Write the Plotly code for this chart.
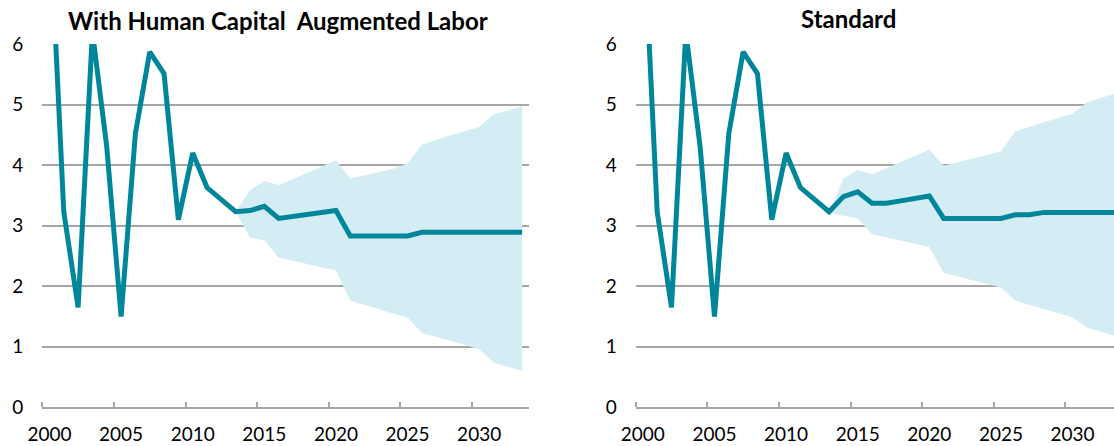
import plotly.graph_objects as go

# ---------------- data ----------------
years = [2000, 2001, 2002, 2003, 2004, 2005, 2006, 2007, 2008, 2009, 2010,
         2011, 2012, 2013, 2014, 2015, 2016, 2017, 2018, 2019, 2020, 2021,
         2022, 2023, 2024, 2025, 2026, 2027, 2028, 2029, 2030, 2031, 2032, 2033]

# historical growth (same in both panels), 2000-2013
hist = [8.2, 3.23, 1.65, 6.2, 4.30, 1.50, 4.52, 5.87, 5.51, 3.10, 4.20,
        3.63, 3.43, 3.23]

# projections 2014-2033
proj_hc = [3.25, 3.32, 3.12, 3.15, 3.18, 3.22, 3.25, 2.83, 2.83, 2.83, 2.83,
           2.83, 2.89, 2.89, 2.89, 2.89, 2.89, 2.89, 2.89, 2.89]
proj_std = [3.48, 3.56, 3.37, 3.37, 3.41, 3.45, 3.49, 3.12, 3.12, 3.12, 3.12,
            3.12, 3.18, 3.18, 3.22, 3.22, 3.22, 3.22, 3.22, 3.22]

# confidence band 2013-2033
band_years = years[13:]
hc_upper = [3.23, 3.59, 3.74, 3.67, 3.77, 3.87, 3.97, 4.08, 3.78, 3.83, 3.88,
            3.94, 4.03, 4.34, 4.42, 4.49, 4.56, 4.63, 4.84, 4.91, 4.97]
hc_lower = [3.23, 2.80, 2.76, 2.47, 2.42, 2.37, 2.31, 2.26, 1.76, 1.69, 1.62,
            1.55, 1.48, 1.23, 1.17, 1.10, 1.03, 0.96, 0.74, 0.67, 0.60]
std_upper = [3.21, 3.78, 3.92, 3.85, 3.95, 4.05, 4.16, 4.26, 3.99, 4.05, 4.11,
             4.17, 4.23, 4.56, 4.64, 4.71, 4.78, 4.85, 5.04, 5.11, 5.18]
std_lower = [3.21, 3.17, 3.12, 2.86, 2.81, 2.75, 2.70, 2.65, 2.22, 2.16, 2.10,
             2.04, 1.98, 1.76, 1.69, 1.62, 1.56, 1.49, 1.32, 1.25, 1.18]

tick_years = [2000, 2005, 2010, 2015, 2020, 2025, 2030]
tick_text = ["2000", "2005", "2010", "2015", "2020", "2025", "2030"]
y_ticks = [0, 1, 2, 3, 4, 5, 6]

titles = ["With Human Capital\u00a0 Augmented Labor", "Standard"]

# ---------------- style ----------------
W, H = 1114, 446
LINE = "#00869A"
BAND = "#D4EDF4"
GRID = "#A6A6A6"
FONT = "Lato"

fig = go.Figure()

panels = [
    (hist + proj_hc, hc_upper, hc_lower, "x", "y"),
    (hist + proj_std, std_upper, std_lower, "x2", "y2"),
]
for vals, up, lo, xa, ya in panels:
    fig.add_trace(go.Scatter(x=band_years, y=up, mode="lines",
                             line=dict(width=0, color=BAND),
                             xaxis=xa, yaxis=ya, showlegend=False,
                             hoverinfo="skip"))
    fig.add_trace(go.Scatter(x=band_years, y=lo, mode="lines",
                             line=dict(width=0, color=BAND), fill="tonexty",
                             fillcolor=BAND, xaxis=xa, yaxis=ya,
                             showlegend=False, hoverinfo="skip"))
    fig.add_trace(go.Scatter(x=years, y=vals, mode="lines",
                             line=dict(width=5, color=LINE),
                             xaxis=xa, yaxis=ya, showlegend=False))

# pixel geometry
left_x0, left_x1 = 42.3, 529.3
right_x0 = 635.7
px_per_year = (left_x1 - left_x0) / 34.0
y_top, y_bot = 44.0, 407.4
ydom = [(H - y_bot) / H, (H - y_top) / H]

minor_ticks = [t - 0.5 for t in tick_years]

xcommon = dict(
    tickmode="array", tickvals=tick_years, ticktext=tick_text,
    ticks="", showgrid=False, zeroline=False,
    showline=True, linecolor=GRID, linewidth=2,
    tickfont=dict(family=FONT, size=19, color="#000000"),
    minor=dict(tickvals=minor_ticks, ticks="inside", ticklen=5,
               tickwidth=2, tickcolor=GRID, showgrid=False),
    ticklabelstandoff=9, automargin=False,
    fixedrange=True,
)
ycommon = dict(
    range=[0, 6], tickmode="array", tickvals=y_ticks,
    showgrid=True, gridcolor=GRID, gridwidth=2, zeroline=False,
    showline=False, ticks="",
    tickfont=dict(family=FONT, size=19, color="#000000"),
    ticklabelstandoff=18, domain=ydom, fixedrange=True, automargin=False,
)

right_end_year = 1999.5 + (W - right_x0) / px_per_year

fig.update_layout(
    width=W, height=H,
    margin=dict(l=0, r=0, t=0, b=0, autoexpand=False),
    paper_bgcolor="white", plot_bgcolor="white",
    xaxis=dict(xcommon, domain=[left_x0 / W, left_x1 / W],
               range=[1999.5, 2033.5], anchor="y"),
    yaxis=dict(ycommon, anchor="x"),
    xaxis2=dict(xcommon, domain=[right_x0 / W, 1.0],
                range=[1999.5, right_end_year], anchor="y2"),
    yaxis2=dict(ycommon, anchor="x2"),
    annotations=[
        dict(text="<b>" + titles[0] + "</b>", x=278 / W, y=(H - 20) / H,
             xref="paper", yref="paper", xanchor="center", yanchor="middle",
             showarrow=False, font=dict(family=FONT, size=24, color="#000000")),
        dict(text="<b>" + titles[1] + "</b>", x=848 / W, y=(H - 18) / H,
             xref="paper", yref="paper", xanchor="center", yanchor="middle",
             showarrow=False, font=dict(family=FONT, size=24, color="#000000")),
    ],
)

fig.write_html(
    "out.html",
    config={"displayModeBar": False, "staticPlot": True},
    post_script="document.body.style.margin='0';"
                "document.body.style.overflow='hidden';",
)
